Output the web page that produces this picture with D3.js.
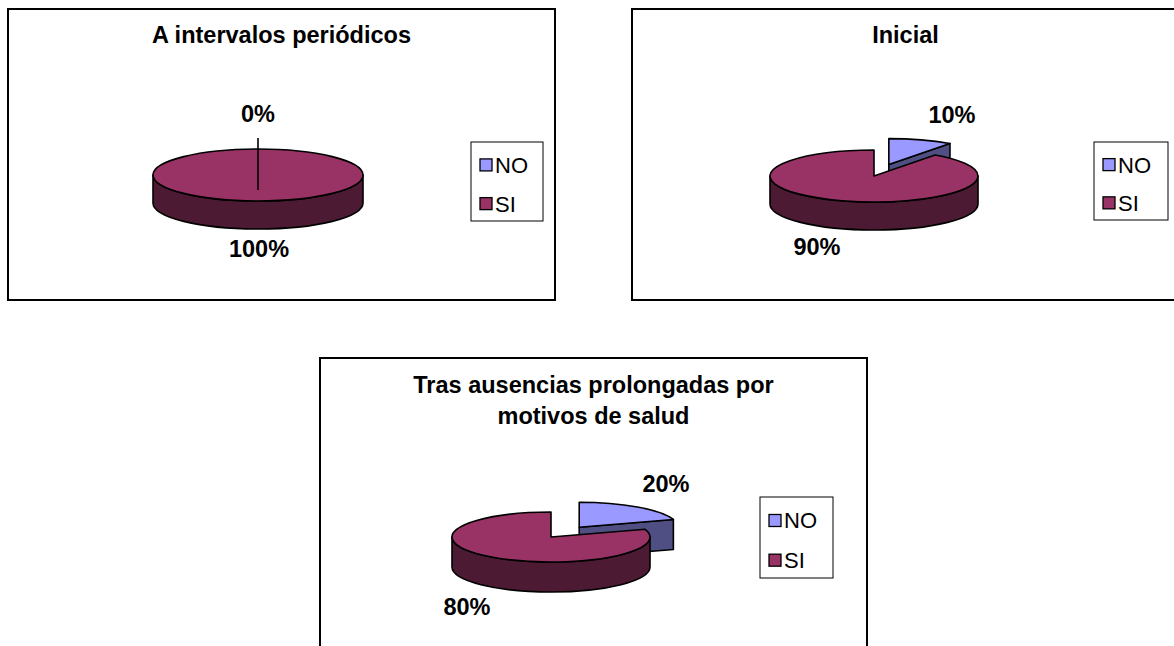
<!DOCTYPE html>
<html><head><meta charset="utf-8">
<script src="https://cdn.jsdelivr.net/npm/d3@7"></script>
<style>
body{margin:0;background:#fff}
svg{display:block}
text{font-family:Arial,"Liberation Sans",sans-serif;fill:#000}
</style>
</head><body>
<svg id="c" width="1174" height="646"></svg>
<script>
// ---- data ----
const categories = ["NO", "SI"];
const titlePeriodicos = ["A intervalos periódicos"];
const titleInicial = ["Inicial"];
const titleAusencias = ["Tras ausencias prolongadas por", "motivos de salud"];
const valuesPeriodicos = [0, 100];
const valuesInicial = [10, 90];
const valuesAusencias = [20, 80];

// ---- styles / layout ----
const topColors = {NO: "#9999ff", SI: "#993366"};
const sideColors = {NO: "#4f4f84", SI: "#4d1a33"};
const boldSize = 23.5;

const charts = [
  {title: titlePeriodicos, values: valuesPeriodicos,
   frame: {x: 8, y: 9, w: 547, h: 291}, titleY: 43,
   pie: {cx: 258, cy: 175, rx: 105, ry: 26, depth: 28, explode: 0},
   legend: {x: 471, y: 142, w: 72, h: 79},
   labelOff: {NO: [0, -53], SI: [1, 82]}, leader: true},
  {title: titleInicial, values: valuesInicial,
   frame: {x: 632, y: 9, w: 547, h: 291}, titleY: 43,
   pie: {cx: 874, cy: 176, rx: 104, ry: 26, depth: 28, explode: 48},
   legend: {x: 1094, y: 142, w: 74, h: 78},
   labelOff: {NO: [78, -53], SI: [-57, 79]}},
  {title: titleAusencias, values: valuesAusencias,
   frame: {x: 320, y: 358, w: 547, h: 300}, titleY: 393,
   pie: {cx: 551, cy: 537, rx: 99, ry: 25, depth: 30, explode: 48},
   legend: {x: 760, y: 497, w: 73, h: 81},
   labelOff: {NO: [115, -45], SI: [-84, 78]}}
];

const svg = d3.select("#c");
const TAU = Math.PI * 2;

function drawChart(cfg) {
  const g = svg.append("g");
  const f = cfg.frame;
  g.append("rect").attr("x", f.x).attr("y", f.y).attr("width", f.w).attr("height", f.h)
    .attr("fill", "#fff").attr("stroke", "#000").attr("stroke-width", 2);

  // title
  const tcx = f.x + f.w / 2;
  cfg.title.forEach((line, i) => {
    g.append("text").attr("x", tcx).attr("y", cfg.titleY + i * 31)
      .attr("text-anchor", "middle").attr("font-size", boldSize).attr("font-weight", "bold").text(line);
  });

  const P = cfg.pie;
  const data = categories.map((c, i) => ({cat: c, value: cfg.values[i]}));
  const arcs = d3.pie().sort(null).value(d => d.value).startAngle(0).endAngle(TAU)(data);
  const total = d3.sum(cfg.values);

  // x/y scales for projected ellipse
  const sx = d3.scaleLinear().domain([-1, 1]).range([-P.rx, P.rx]);
  const sy = d3.scaleLinear().domain([-1, 1]).range([-P.ry, P.ry]);

  function center(a) {
    const mid = (a.startAngle + a.endAngle) / 2;
    const exp = (a.data.cat === "NO" && a.value > 0 && a.value < total) ? P.explode / P.rx : 0;
    return [P.cx + sx(exp * Math.sin(mid)), P.cy - sy(exp * Math.cos(mid))];
  }
  function pt(c, ang, dy = 0) {
    return [c[0] + sx(Math.sin(ang)), c[1] - sy(Math.cos(ang)) + dy];
  }

  const slices = arcs.filter(a => a.value > 0)
    .sort((a, b) => Math.cos((b.startAngle + b.endAngle) / 2) - Math.cos((a.startAngle + a.endAngle) / 2));

  const pg = g.append("g").attr("stroke", "#000").attr("stroke-width", 1.6).attr("stroke-linejoin", "round");

  slices.forEach(a => {
    const c = center(a);
    const a0 = a.startAngle, a1 = a.endAngle;
    const full = (a1 - a0) >= TAU - 1e-6;
    const side = sideColors[a.data.cat], top = topColors[a.data.cat];
    const D = P.depth;

    // radial faces
    if (!full) {
      const faces = [];
      if (Math.sin(a1) > 1e-6) faces.push(a1);
      if (Math.sin(a0) < -1e-6) faces.push(a0);
      faces.forEach(ang => {
        const e = pt(c, ang);
        const p = d3.path();
        p.moveTo(c[0], c[1]); p.lineTo(e[0], e[1]); p.lineTo(e[0], e[1] + D); p.lineTo(c[0], c[1] + D); p.closePath();
        pg.append("path").attr("d", p.toString()).attr("fill", side);
      });
    }
    // outer curved side (front half)
    const s = Math.max(a0, Math.PI / 2), e = Math.min(a1, 3 * Math.PI / 2);
    if (e > s) {
      const ps = pt(c, s), pe = pt(c, e);
      const large = (e - s) > Math.PI ? 1 : 0;
      const d = `M${ps[0]},${ps[1]} A${P.rx},${P.ry} 0 ${large} 1 ${pe[0]},${pe[1]} L${pe[0]},${pe[1] + D} A${P.rx},${P.ry} 0 ${large} 0 ${ps[0]},${ps[1] + D} Z`;
      pg.append("path").attr("d", d).attr("fill", side);
    }
    // top face
    if (full) {
      pg.append("ellipse").attr("cx", c[0]).attr("cy", c[1]).attr("rx", P.rx).attr("ry", P.ry).attr("fill", top);
    } else {
      const p0 = pt(c, a0), p1 = pt(c, a1);
      const large = (a1 - a0) > Math.PI ? 1 : 0;
      const d = `M${c[0]},${c[1]} L${p0[0]},${p0[1]} A${P.rx},${P.ry} 0 ${large} 1 ${p1[0]},${p1[1]} Z`;
      pg.append("path").attr("d", d).attr("fill", top);
    }
  });

  // leader line for the zero slice
  if (cfg.leader) {
    const z = arcs.find(a => a.value === 0);
    const c = [P.cx, P.cy];
    const pTop = pt(c, z.startAngle);
    g.append("line").attr("x1", pTop[0]).attr("y1", pTop[1] - 11)
      .attr("x2", c[0]).attr("y2", c[1] + 15).attr("stroke", "#000").attr("stroke-width", 1.6);
  }

  // data labels
  arcs.forEach(a => {
    const off = cfg.labelOff[a.data.cat];
    const pct = d3.format(".0%")(a.value / total);
    g.append("text").attr("x", P.cx + off[0]).attr("y", P.cy + off[1])
      .attr("text-anchor", "middle").attr("font-size", boldSize).attr("font-weight", "bold").text(pct);
  });

  // legend
  const L = cfg.legend;
  g.append("rect").attr("x", L.x).attr("y", L.y).attr("width", L.w).attr("height", L.h)
    .attr("fill", "#fff").attr("stroke", "#000").attr("stroke-width", 1);
  const rowY = d3.scalePoint().domain(categories).range([L.y + L.h * 0.29, L.y + L.h * 0.78]);
  categories.forEach(cat => {
    const cy = rowY(cat);
    g.append("rect").attr("x", L.x + 9).attr("y", cy - 6).attr("width", 12).attr("height", 12)
      .attr("fill", topColors[cat]).attr("stroke", "#000").attr("stroke-width", 1.3);
    g.append("text").attr("x", L.x + 24).attr("y", cy + 8).attr("font-size", 22).text(cat);
  });
}

charts.forEach(drawChart);
</script>
</body></html>
